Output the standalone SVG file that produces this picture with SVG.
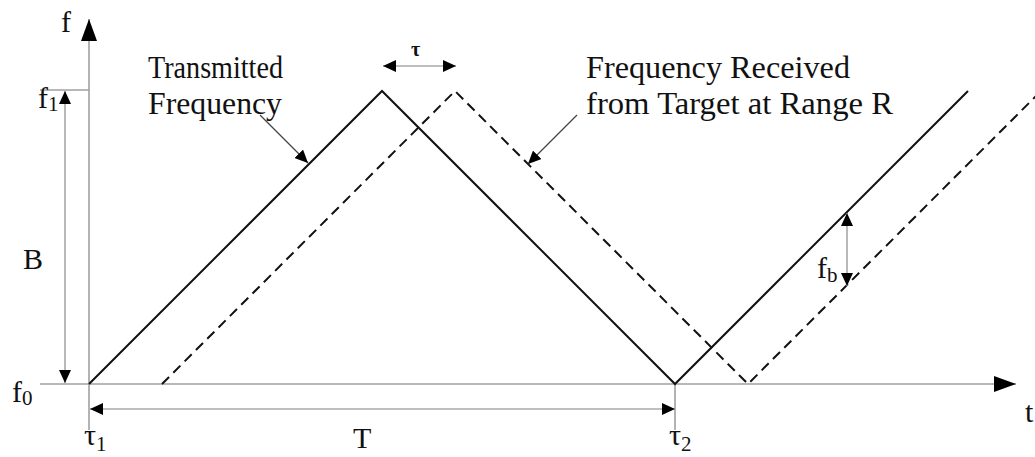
<svg xmlns="http://www.w3.org/2000/svg" width="1035" height="457" viewBox="0 0 1035 457">
<style>
.ax{stroke:#a0a0a0;stroke-width:1.6;fill:none}
.dim{stroke:#a8a8a8;stroke-width:1.6;fill:none}
.tx{stroke:#111;stroke-width:2;fill:none}
.rx{stroke:#111;stroke-width:2;fill:none;stroke-dasharray:10 6}
.ptr{stroke:#444;stroke-width:1.3;fill:none}
text{font-family:"Liberation Serif","Times New Roman",serif;fill:#111}
.lbl{font-size:31px}
.sym{font-size:30px}
.sub{font-size:21px}
</style>
<defs>
<marker id="big" markerUnits="userSpaceOnUse" markerWidth="24" markerHeight="16" refX="22" refY="8" orient="auto"><path d="M0,0 L22,8 L0,16 Z" fill="#000"/></marker>
<marker id="sm" markerUnits="userSpaceOnUse" markerWidth="14" markerHeight="12" refX="13" refY="6" orient="auto"><path d="M0,0 L13,6 L0,12 Z" fill="#000"/></marker>
<marker id="smr" markerUnits="userSpaceOnUse" markerWidth="14" markerHeight="12" refX="1" refY="6" orient="auto"><path d="M14,0 L1,6 L14,12 Z" fill="#000"/></marker>
</defs>
<g id="axes">
<line class="ax" x1="89" y1="430" x2="89" y2="19" marker-end="url(#big)"/>
<line class="ax" x1="40" y1="384" x2="1016" y2="384" marker-end="url(#big)"/>
<line class="ax" x1="40" y1="90" x2="89" y2="90"/>
<line class="ax" x1="675" y1="384" x2="675" y2="430"/>
</g>
<g id="transmitted">
<polyline class="tx" points="89,384 382,91 675,384 968,91"/>
</g>
<g id="received">
<polyline class="rx" points="162,384 455,91 748,384 1041,91"/>
</g>
<g id="connectors">
<line class="dim" x1="65" y1="91" x2="65" y2="383" marker-start="url(#smr)" marker-end="url(#sm)"/>
<line class="dim" x1="90" y1="409" x2="675" y2="409" marker-start="url(#smr)" marker-end="url(#sm)"/>
<line class="dim" x1="383" y1="66" x2="456" y2="66" marker-start="url(#smr)" marker-end="url(#sm)"/>
<line class="dim" x1="847" y1="213" x2="847" y2="286" marker-start="url(#smr)" marker-end="url(#sm)"/>
<line class="ptr" x1="260" y1="115" x2="308" y2="163" marker-end="url(#sm)"/>
<line class="ptr" x1="577" y1="115" x2="528" y2="164" marker-end="url(#sm)"/>
</g>
<g id="labels">
<text class="lbl" x="148" y="78" textLength="135" lengthAdjust="spacingAndGlyphs">Transmitted</text>
<text class="lbl" x="148" y="114" textLength="134" lengthAdjust="spacingAndGlyphs">Frequency</text>
<text class="lbl" x="586" y="78" textLength="264" lengthAdjust="spacingAndGlyphs">Frequency Received</text>
<text class="lbl" x="586" y="114" textLength="307" lengthAdjust="spacingAndGlyphs">from Target at Range R</text>
<text class="sym" x="61" y="32">f</text>
<text class="sym" x="38" y="108">f<tspan class="sub" dy="3">1</tspan></text>
<text class="sym" x="12" y="402">f<tspan class="sub" dy="3">0</tspan></text>
<text class="sym" x="84" y="445">τ<tspan class="sub" dy="6">1</tspan></text>
<text class="sym" x="669" y="445">τ<tspan class="sub" dy="6">2</tspan></text>
<text class="sym" x="1025" y="422">t</text>
<text class="sym" x="23" y="269">B</text>
<text class="sym" x="353" y="448">T</text>
<text class="sym" x="817" y="278">f<tspan class="sub" dy="4">b</tspan></text>
<text x="411" y="56" font-size="20" font-weight="bold">τ</text>
</g>
</svg>
